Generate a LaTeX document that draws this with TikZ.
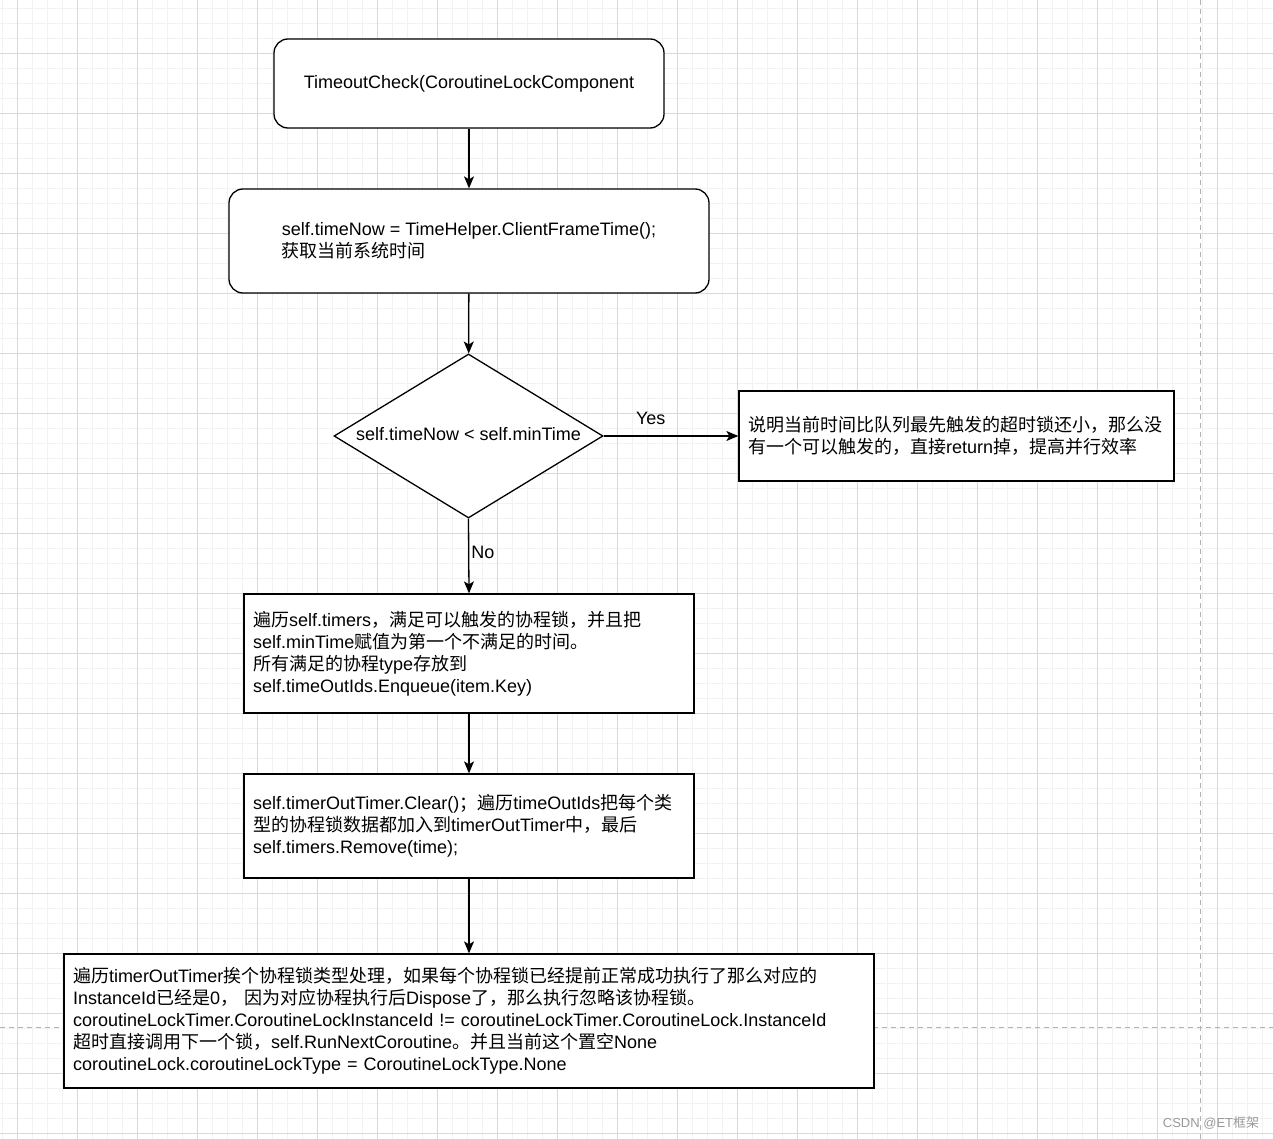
\documentclass[tikz,border=0pt]{standalone}
\usepackage{fontspec}
\setmainfont{Liberation Sans}
\newfontfamily\cjk{Noto Sans CJK SC}
\newcommand{\zh}[1]{{\cjk #1}}
\usetikzlibrary{shapes.geometric,arrows.meta}
\begin{document}
\begin{tikzpicture}[x=1pt,y=-1pt,
  txt/.style={font=\fontsize{18}{22}\selectfont, text=black},
  boxr/.style={txt, draw=black, line width=1.3pt, fill=white, rounded corners=14pt, inner sep=0pt},
  boxs/.style={txt, draw=black, line width=1.3pt, fill=white, inner ysep=0pt, inner xsep=9pt, align=left},
  dia/.style={txt, draw=black, line width=1.3pt, fill=white, diamond, inner sep=0pt, aspect=1.64},
  conn/.style={line width=1.3pt, -{Stealth[length=12pt,width=10pt,inset=3pt]}},
  lbl/.style={txt, inner sep=0pt},
  gminor/.style={line width=1pt, color=black!5},
  gmajor/.style={line width=1pt, color=black!15},
  gdash/.style={line width=1pt, color=black!30, dash pattern=on 5pt off 4pt}
]
\useasboundingbox (0,0) rectangle (1273,1139);
\fill[white] (0,0) rectangle (1273,1139);
\begin{scope}
\clip (0,0) rectangle (1273,1139);
\foreach \k in {0,...,84} { \draw[gminor] (2.3+15*\k,0) -- (2.3+15*\k,1139); }
\foreach \k in {0,...,75} { \draw[gminor] (0,8.3+15*\k) -- (1273,8.3+15*\k); }
\foreach \k in {0,...,21} { \draw[gmajor] (17.3+60*\k,0) -- (17.3+60*\k,1139); }
\foreach \k in {0,...,18} { \draw[gmajor] (0,53.3+60*\k) -- (1273,53.3+60*\k); }
\draw[gdash] (1200,0) -- (1200,1139);
\draw[gdash] (0,1027) -- (1273,1027);
\end{scope}

\node[boxr, minimum width=390pt, minimum height=89pt] (n1) at (469,83.5) {TimeoutCheck(CoroutineLockComponent};

\node[boxr, minimum width=480pt, minimum height=104pt, align=left] (n2) at (469,241)
  {self.timeNow = TimeHelper.ClientFrameTime();\\ \zh{获取当前系统时间}};

\node[dia, minimum width=269pt, minimum height=164pt] (d) at (468.5,436) {\raisebox{4pt}{self.timeNow < self.minTime}};

\node[boxs, minimum width=435pt, minimum height=90pt, text width=417pt] (r) at (956.5,436)
  {\zh{说明当前时间比队列最先触发的超时锁还小，那么没}\\ \zh{有一个可以触发的，直接}return\zh{掉，提高并行效率}};

\node[boxs, minimum width=450pt, minimum height=119pt, text width=432pt] (n3) at (469,653.5)
  {\zh{遍历}self.timers\zh{，满足可以触发的协程锁，并且把}\\
   self.minTime\zh{赋值为第一个不满足的时间。}\\
   \zh{所有满足的协程}type\zh{存放到}\\
   self.timeOutIds.Enqueue(item.Key)};

\node[boxs, minimum width=450pt, minimum height=104pt, text width=432pt] (n4) at (469,826)
  {self.timerOutTimer.Clear()\zh{；遍历}timeOutIds\zh{把每个类}\\
   \zh{型的协程锁数据都加入到}timerOutTimer\zh{中，最后}\\
   self.timers.Remove(time);};

\node[boxs, minimum width=810pt, minimum height=134pt, text width=792pt] (n5) at (469,1021)
  {\zh{遍历}timerOutTimer\zh{挨个协程锁类型处理，如果每个协程锁已经提前正常成功执行了那么对应的}\\
   InstanceId\zh{已经是}0\zh{，}\ \zh{因为对应协程执行后}Dispose\zh{了，那么执行忽略该协程锁。}\\
   coroutineLockTimer.CoroutineLockInstanceId != coroutineLockTimer.CoroutineLock.InstanceId\\
   \zh{超时直接调用下一个锁，}self.RunNextCoroutine\zh{。并且当前这个置空}None\\
   coroutineLock.coroutineLockType = CoroutineLockType.None};

\draw[conn] (n1) -- (n2);
\draw[conn] (n2) -- (d);
\draw[conn] (d.east) -- node[lbl, pos=0.35, above=11pt] (yes) {Yes} (r.west);
\draw[conn] (d.south) -- node[lbl, pos=0.45, right=2pt] (no) {No} (n3.north);
\draw[conn] (n3) -- (n4);
\draw[conn] (n4) -- (n5);

\node[font=\fontsize{13}{15}\selectfont, text=black!40, inner sep=0pt] (wm) at (1211,1123) {CSDN @ET\zh{框架}};
\end{tikzpicture}
\end{document}
